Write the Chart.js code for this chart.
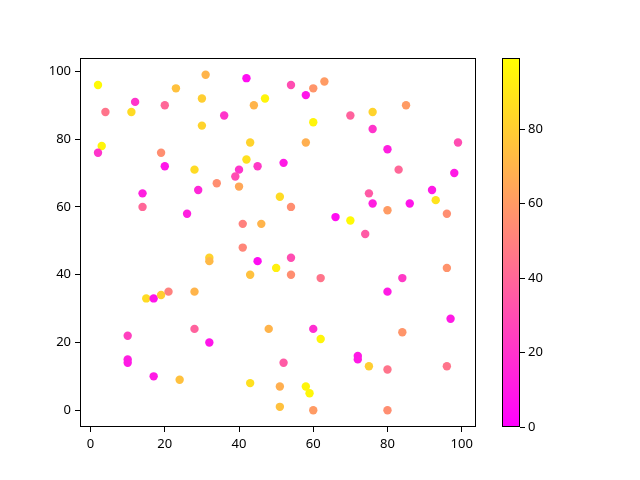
<!DOCTYPE html>
<html>
<head>
<meta charset="utf-8">
<script src="https://cdn.jsdelivr.net/npm/chart.js@4.4.1/dist/chart.umd.min.js"></script>
<style>
  html, body { margin: 0; padding: 0; background: #fff; }
</style>
</head>
<body>
<canvas id="scatter" width="640" height="480"></canvas>
<script>
// ---- data ----
const xValues = [2, 31, 23, 12, 4, 11, 20, 30, 30, 3, 2, 19, 20, 28, 34, 42, 54, 63, 60, 58,
  47, 44, 36, 70, 60, 43, 58, 42, 45, 52, 40, 39, 40, 76, 85, 76, 80, 99, 83, 98,
  14, 14, 29, 26, 32, 32, 15, 17, 19, 21, 28, 51, 54, 41, 46, 66, 70, 41, 45, 54,
  50, 43, 54, 62, 75, 76, 80, 86, 92, 93, 96, 74, 96, 84, 80, 10, 10, 10, 17, 24,
  28, 32, 48, 60, 62, 52, 43, 51, 58, 59, 51, 60, 97, 84, 72, 72, 75, 80, 96, 80];
const yValues = [96, 99, 95, 91, 88, 88, 90, 92, 84, 78, 76, 76, 72, 71, 67, 98, 96, 97, 95, 93,
  92, 90, 87, 87, 85, 79, 79, 74, 72, 73, 71, 69, 66, 88, 90, 83, 77, 79, 71, 70,
  64, 60, 65, 58, 45, 44, 33, 33, 34, 35, 35, 63, 60, 55, 55, 57, 56, 48, 44, 45,
  42, 40, 40, 39, 64, 61, 59, 61, 65, 62, 58, 52, 42, 39, 35, 22, 15, 14, 10, 9,
  24, 20, 24, 24, 21, 14, 8, 7, 7, 5, 1, 0, 27, 23, 16, 15, 13, 12, 13, 0];
const colorValues = [97, 70, 75, 20, 45, 85, 40, 80, 82, 95, 20, 55, 8, 85, 55, 5, 30, 60, 58, 8,
  95, 70, 20, 38, 95, 82, 68, 87, 22, 10, 20, 30, 65, 82, 60, 20, 12, 30, 40, 10,
  12, 40, 15, 12, 82, 72, 85, 8, 80, 50, 70, 85, 55, 50, 70, 5, 97, 52, 5, 30,
  93, 75, 55, 45, 35, 12, 60, 8, 10, 88, 55, 35, 57, 22, 10, 25, 12, 10, 10, 75,
  38, 8, 70, 18, 95, 35, 87, 68, 95, 96, 75, 60, 10, 58, 10, 10, 80, 45, 45, 55];

const xTicks = [0, 20, 40, 60, 80, 100];
const yTicks = [0, 20, 40, 60, 80, 100];
const colorbarTicks = [0, 20, 40, 60, 80];
const colorMin = 0;
const colorMax = 99;

const FONT = { family: "'Noto Sans', sans-serif", size: 13 };

// matplotlib "spring": magenta -> yellow
function spring(v) {
  const t = Math.min(1, Math.max(0, (v - colorMin) / (colorMax - colorMin)));
  return `rgb(255, ${Math.round(255 * t)}, ${Math.round(255 * (1 - t))})`;
}

const points = xValues.map((x, i) => ({ x, y: yValues[i] }));
const pointColors = colorValues.map(spring);

// frame around the axes + the colorbar on the right
const framePlugin = {
  id: 'frameAndColorbar',
  afterDraw(chart) {
    const { ctx, chartArea: a } = chart;
    ctx.save();
    ctx.strokeStyle = '#000';
    ctx.lineWidth = 1;
    ctx.strokeRect(a.left + 0.5, a.top + 0.5, a.right - a.left - 1, a.bottom - a.top - 1);

    // colorbar
    const left = 502, width = 18;
    const top = a.top, bottom = a.bottom;
    const grad = ctx.createLinearGradient(0, bottom, 0, top);
    grad.addColorStop(0, spring(colorMin));
    grad.addColorStop(1, spring(colorMax));
    ctx.fillStyle = grad;
    ctx.fillRect(left, top, width, bottom - top);
    ctx.strokeRect(left + 0.5, top + 0.5, width - 1, bottom - top - 1);

    ctx.fillStyle = '#000';
    ctx.font = `${FONT.size}px ${FONT.family}`;
    ctx.textAlign = 'left';
    ctx.textBaseline = 'middle';
    colorbarTicks.forEach(v => {
      const y = bottom - (v - colorMin) / (colorMax - colorMin) * (bottom - top);
      const yy = Math.round(y) + 0.5;
      ctx.beginPath();
      ctx.moveTo(left + width, yy);
      ctx.lineTo(left + width + 5, yy);
      ctx.stroke();
      ctx.fillText(String(v), left + width + 8, y);
    });
    ctx.restore();
  },
};

const axisStyle = {
  grid: {
    display: true,
    drawOnChartArea: false,
    drawTicks: true,
    tickLength: 5,
    tickColor: '#000',
    tickWidth: 1,
  },
  border: { display: false },
  ticks: { color: '#000', font: FONT, padding: 4 },
};

new Chart(document.getElementById('scatter'), {
  type: 'scatter',
  data: {
    datasets: [{
      data: points,
      backgroundColor: pointColors,
      borderWidth: 0,
      pointRadius: 4.2,
      pointHoverRadius: 4.2,
    }],
  },
  options: {
    responsive: false,
    animation: false,
    layout: { padding: { left: 0, right: 164, top: 58, bottom: 0 } },
    plugins: { legend: { display: false }, tooltip: { enabled: false } },
    scales: {
      x: {
        ...axisStyle,
        type: 'linear',
        min: -2.85,
        max: 103.85,
        afterBuildTicks: s => { s.ticks = xTicks.map(value => ({ value })); },
        afterFit: s => { s.height = 53; },
      },
      y: {
        ...axisStyle,
        type: 'linear',
        min: -4.95,
        max: 103.95,
        afterBuildTicks: s => { s.ticks = yTicks.map(value => ({ value })); },
        afterFit: s => { s.width = 80; },
      },
    },
  },
  plugins: [framePlugin],
});
</script>
</body>
</html>
